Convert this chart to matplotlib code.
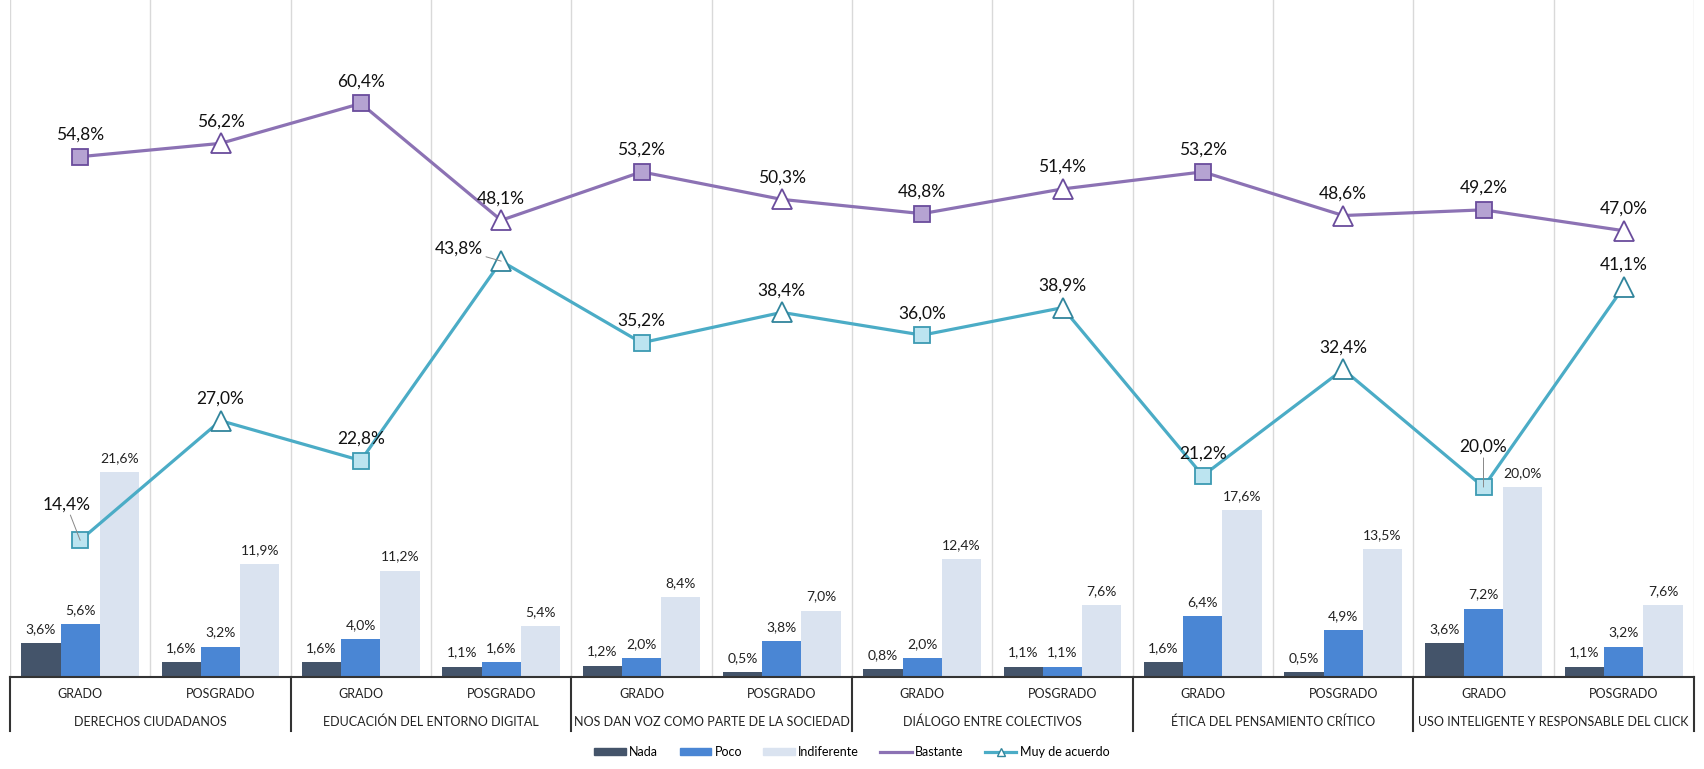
import matplotlib
matplotlib.use("Agg")
import matplotlib.pyplot as plt
from matplotlib.lines import Line2D
from matplotlib.patches import Patch
from matplotlib.transforms import blended_transform_factory

plt.rcParams['font.family'] = ['Lato', 'DejaVu Sans']

groups = ["DERECHOS CIUDADANOS", "EDUCACIÓN DEL ENTORNO DIGITAL",
          "NOS DAN VOZ COMO PARTE DE LA SOCIEDAD", "DIÁLOGO ENTRE COLECTIVOS",
          "ÉTICA DEL PENSAMIENTO CRÍTICO", "USO INTELIGENTE Y RESPONSABLE DEL CLICK"]
levels = ["GRADO", "POSGRADO"]

nada = [3.6, 1.6, 1.6, 1.1, 1.2, 0.5, 0.8, 1.1, 1.6, 0.5, 3.6, 1.1]
poco = [5.6, 3.2, 4.0, 1.6, 2.0, 3.8, 2.0, 1.1, 6.4, 4.9, 7.2, 3.2]
indiferente = [21.6, 11.9, 11.2, 5.4, 8.4, 7.0, 12.4, 7.6, 17.6, 13.5, 20.0, 7.6]
bastante = [54.8, 56.2, 60.4, 48.1, 53.2, 50.3, 48.8, 51.4, 53.2, 48.6, 49.2, 47.0]
muy = [14.4, 27.0, 22.8, 43.8, 35.2, 38.4, 36.0, 38.9, 21.2, 32.4, 20.0, 41.1]

def fmt(v):
    return f"{v:.1f}%".replace('.', ',')

c_nada = "#44546A"
c_poco = "#4A86D4"
c_ind = "#DAE3F0"
c_bas = "#8C72B4"
c_bas_edge = "#6A4C9C"
c_bas_fill = "#B5A3D2"
c_muy = "#4BACC6"
c_muy_edge = "#3C9AB2"
c_muy_fill = "#BCE4F0"

fig = plt.figure(figsize=(17.04, 7.69), dpi=100)
ax_bottom = 1 - 677 / 769
ax = fig.add_axes([10 / 1704, ax_bottom, 1684 / 1704, 1 - ax_bottom])

n = len(nada)
xs = [i + 0.5 for i in range(n)]
bw = 0.28
ax.bar([x - bw for x in xs], nada, bw, color=c_nada, zorder=2)
ax.bar(xs, poco, bw, color=c_poco, zorder=2)
ax.bar([x + bw for x in xs], indiferente, bw, color=c_ind, zorder=2)

for x, vals, off in [(xs, nada, -bw), (xs, poco, 0), (xs, indiferente, bw)]:
    for xi, v in zip(x, vals):
        ax.annotate(fmt(v), (xi + off, v), xytext=(0, 8), textcoords='offset pixels',
                    ha='center', va='bottom', fontsize=10, color='#222222', zorder=5)

# lines
ax.plot(xs, bastante, color=c_bas, lw=2.3, zorder=3)
ax.plot(xs, muy, color=c_muy, lw=2.3, zorder=3)
ev = xs[0::2]; od = xs[1::2]
ax.plot(ev, bastante[0::2], ls='none', marker='s', ms=11, mfc=c_bas_fill, mec=c_bas_edge, mew=1.3, zorder=4)
ax.plot(od, bastante[1::2], ls='none', marker='^', ms=14, mfc='white', mec=c_bas_edge, mew=1.3, zorder=4)
ax.plot(ev, muy[0::2], ls='none', marker='s', ms=11, mfc=c_muy_fill, mec=c_muy_edge, mew=1.3, zorder=4)
ax.plot(od, muy[1::2], ls='none', marker='^', ms=14, mfc='white', mec="#31859C", mew=1.3, zorder=4)

for xi, v in zip(xs, bastante):
    ax.annotate(fmt(v), (xi, v), xytext=(0, 14), textcoords='offset pixels',
                ha='center', va='bottom', fontsize=12.5, color='#111111', zorder=5)

special = {0: (-14, 28, True), 3: (-42, 4, True), 10: (0, 32, True)}
for i, (xi, v) in enumerate(zip(xs, muy)):
    dx, dy, lead = special.get(i, (0, 14, False))
    if lead:
        ax.annotate(fmt(v), (xi, v), xytext=(dx, dy), textcoords='offset pixels',
                    ha='center', va='bottom', fontsize=12.5, color='#111111', zorder=5,
                    arrowprops=dict(arrowstyle='-', color='#888888', lw=0.7,
                                    shrinkA=0, shrinkB=0))
    else:
        ax.annotate(fmt(v), (xi, v), xytext=(dx, dy), textcoords='offset pixels',
                    ha='center', va='bottom', fontsize=12.5, color='#111111', zorder=5)

ax.set_xlim(0, n)
ax.set_ylim(0, 71.3)
ax.set_xticks([])
ax.set_yticks([])
for s in ['top', 'left', 'right']:
    ax.spines[s].set_visible(False)
ax.spines['bottom'].set_color('#333333')
ax.spines['bottom'].set_linewidth(1.5)

for b in range(n + 1):
    ax.axvline(b, color='#D9D9D9', lw=1, zorder=1)

tr = blended_transform_factory(ax.transData, fig.transFigure)
sep_bottom = 1 - 731 / 769
for g in range(len(groups) + 1):
    ax.add_line(Line2D([2 * g, 2 * g], [ax_bottom, sep_bottom], transform=tr, color='#333333',
                       lw=1.5, clip_on=False))
for i, xi in enumerate(xs):
    ax.text(xi, 1 - 694 / 769, levels[i % 2], transform=tr, ha='center', va='center',
            fontsize=9, color='#222222')
for g, name in enumerate(groups):
    ax.text(2 * g + 1, 1 - 722 / 769, name, transform=tr, ha='center', va='center',
            fontsize=9, color='#222222')

handles = [Patch(color=c_nada), Patch(color=c_poco), Patch(color=c_ind),
           Line2D([], [], color=c_bas, lw=2.3),
           Line2D([], [], color=c_muy, lw=2.3, marker='^', ms=6, mfc='white', mec="#31859C")]
labels = ["Nada", "Poco", "Indiferente", "Bastante", "Muy de acuerdo"]
fig.legend(handles, labels, loc='center', bbox_to_anchor=(0.5, 1 - 752 / 769), ncol=5,
           frameon=False, fontsize=9, handlelength=2.5, handleheight=0.5,
           columnspacing=1.7, handletextpad=0.3)

fig.savefig("out.png", dpi=100)
